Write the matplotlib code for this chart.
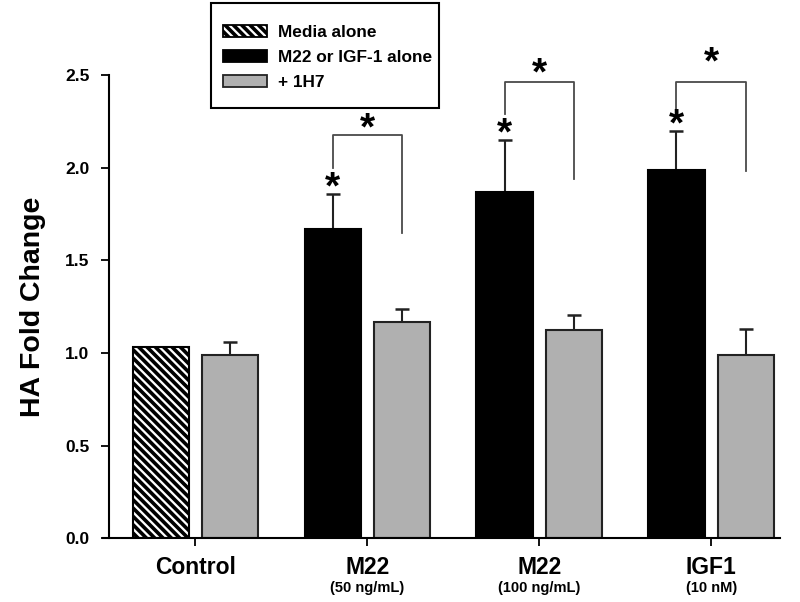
import matplotlib
matplotlib.use("Agg")
import matplotlib.pyplot as plt
from matplotlib.patches import Patch, Rectangle
import numpy as np

plt.rcParams['font.family'] = ['Liberation Sans', 'DejaVu Sans']
plt.rcParams['font.weight'] = 'bold'
plt.rcParams['hatch.linewidth'] = 2.6

groups = ["Control", "M22", "M22", "IGF1"]
sublabels = ["", "(50 ng/mL)", "(100 ng/mL)", "(10 nM)"]
legend_labels = ["Media alone", "M22 or IGF-1 alone", "+ 1H7"]

first_vals = [1.03, 1.67, 1.87, 1.99]        # hatched for control, black for others
first_err = [0.0, 0.19, 0.28, 0.21]
h7_vals = [0.99, 1.17, 1.126, 0.99]
h7_err = [0.07, 0.07, 0.08, 0.14]

# brackets: (left leg bottom, top, right leg bottom)
brackets = {1: (2.00, 2.175, 1.65), 2: (2.29, 2.465, 1.94), 3: (2.32, 2.465, 1.985)}
star_bar = {1: 1.89, 2: 2.18, 3: 2.23}
star_brk = {1: 2.205, 2: 2.505, 3: 2.565}

gray = "#b0b0b0"
W, H = 800, 602
fig = plt.figure(figsize=(8, 6.02), dpi=100)
ax = fig.add_axes([0.136, 0.106, 0.839, 0.769])

x = np.arange(len(groups))
w = 0.326
off = 0.202

for i in x:
    if i == 0:
        ax.bar(i - off, first_vals[i], w, color="white", edgecolor="black",
               hatch="\\\\\\\\", linewidth=1.5, zorder=2)
    else:
        ax.bar(i - off, first_vals[i], w, color="black", edgecolor="black",
               linewidth=1.5, zorder=2)
        ax.errorbar(i - off, first_vals[i], yerr=[[0], [first_err[i]]], fmt="none",
                    ecolor="#222222", elinewidth=1.5, capsize=5, capthick=1.8, zorder=1)
    ax.bar(i + off, h7_vals[i], w, color=gray, edgecolor="#222222", linewidth=1.5, zorder=2)
    ax.errorbar(i + off, h7_vals[i], yerr=[[0], [h7_err[i]]], fmt="none",
                ecolor="#222222", elinewidth=1.5, capsize=5, capthick=1.8, zorder=1)

for i, (lb, top, rb) in brackets.items():
    ax.plot([i - off, i - off, i + off, i + off], [lb, top, top, rb],
            color="#4a4a4a", lw=1.3, clip_on=False)
    ax.text(i - off, star_bar[i], "*", ha="center", va="center", fontsize=28,
            fontweight="bold", clip_on=False, zorder=5)
    ax.text(i, star_brk[i], "*", ha="center", va="center", fontsize=28,
            fontweight="bold", clip_on=False, zorder=5)

ax.set_xlim(-0.503, 3.4)
ax.set_ylim(0, 2.5)
ax.set_yticks([0, 0.5, 1.0, 1.5, 2.0, 2.5])
ax.set_yticklabels(["0.0", "0.5", "1.0", "1.5", "2.0", "2.5"], fontsize=12.5, fontweight="bold")
ax.set_xticks(x)
ax.set_xticklabels(groups, fontsize=16.5, fontweight="bold")
for i in x:
    ax.text(i, -0.27, sublabels[i], ha="center", va="center", fontsize=10.5,
            fontweight="bold", transform=ax.transData)
ax.tick_params(axis="both", direction="out", length=6, width=1.3, colors="black")
ax.tick_params(axis="x", pad=7)
ax.tick_params(axis="y", pad=8)
ax.spines["top"].set_visible(False)
ax.spines["right"].set_visible(False)
ax.spines["left"].set_linewidth(1.5)
ax.spines["bottom"].set_linewidth(1.5)
ax.spines["bottom"].set_bounds(-0.538, 3.4)
ax.set_ylabel("HA Fold Change", fontsize=20.5, fontweight="bold", labelpad=14)

handles = [Patch(facecolor="white", edgecolor="black", hatch="\\\\\\\\", linewidth=1.3),
           Patch(facecolor="black", edgecolor="black", linewidth=1.3),
           Patch(facecolor=gray, edgecolor="#222222", linewidth=1.3)]
leg = fig.legend(handles, legend_labels, loc="upper left",
                 bbox_to_anchor=(223 / W, 1 - 25 / H),
                 frameon=False, handlelength=2.56, handleheight=0.65, borderpad=0,
                 borderaxespad=0, labelspacing=0.58, handletextpad=0.64,
                 prop={"weight": "bold", "size": 12.4})
fig.add_artist(Rectangle((211 / W, 1 - 108 / H), 228 / W, 105 / H, transform=fig.transFigure,
                         facecolor="none", edgecolor="black", linewidth=1.5))

fig.savefig("out.png", dpi=100)
